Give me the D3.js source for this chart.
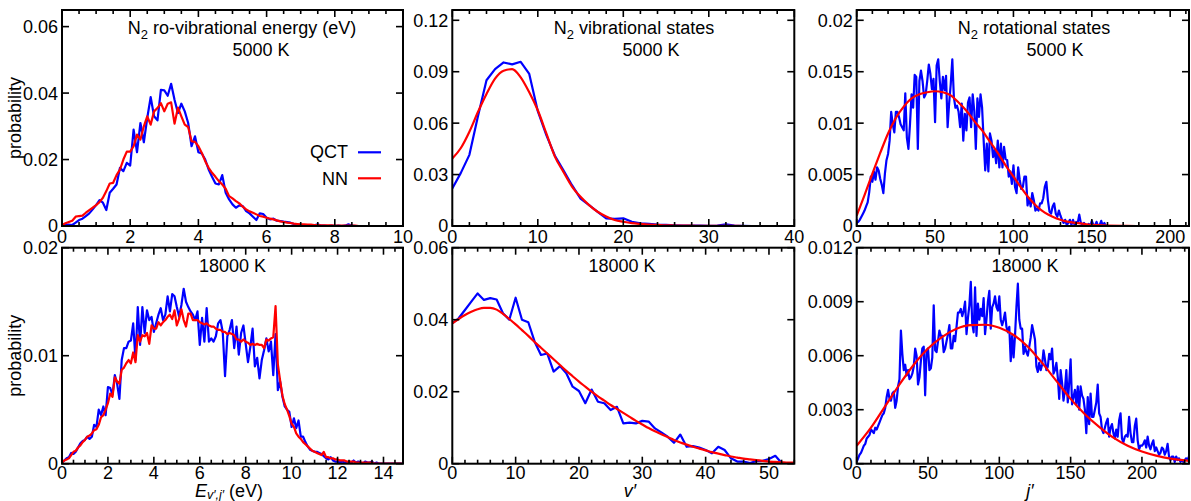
<!DOCTYPE html>
<html><head><meta charset="utf-8">
<script src="https://cdn.jsdelivr.net/npm/d3@7"></script>
<style>body{margin:0;background:#fff}svg text{font-family:"Liberation Sans",Arial,Helvetica,sans-serif;fill:#000}</style>
</head><body><svg id="c" width="1191" height="501"></svg>
<script>
// ---------------- DATA ----------------
// Ro-vibrational energy distributions (bin width 0.1 eV, starting at 0 eV)
const energyBin = 0.1;
const energy5000QCT = [0,0.0003,0.0004,0.0003,0.0010,0.0018,0.0022,0.0030,0.0038,0.0050,
 0.0063,0.0078,0.0070,0.0048,0.0100,0.0112,0.0125,0.0175,0.0165,0.0190,
 0.0182,0.0290,0.0222,0.0310,0.0252,0.0325,0.0388,0.0330,0.0318,0.0410,
 0.0408,0.0392,0.0428,0.0380,0.0340,0.0368,0.0345,0.0310,0.0240,0.0270,
 0.0222,0.0218,0.0200,0.0170,0.0148,0.0128,0.0125,0.0153,0.0100,0.0080,
 0.0065,0.0055,0.0062,0.0060,0.0045,0.0038,0.0028,0.0018,0.0038,0.0036,
 0.0025,0.0020,0.0022,0.0016,0.0015,0.0013,0.0012,0.0010,0.0006,0.0004,
 0.0003,0.0002,0.0002,0.0001,0.0002,0.0005,0.0001,0.0001,0,0.0001,
 0,0.0001,0,0.0001,0.0005,0.0001,0,0,0,0,
 0,0,0,0,0,0,0,0,0,0,0];
const energy5000NN = [0.0003,0.0008,0.0012,0.0016,0.0028,0.0030,0.0031,0.0040,0.0048,0.0055,
 0.0063,0.0072,0.0085,0.0105,0.0128,0.0130,0.0153,0.0170,0.0200,0.0224,
 0.0224,0.0240,0.0275,0.0260,0.0300,0.0330,0.0305,0.0345,0.0355,0.0370,
 0.0345,0.0368,0.0372,0.0308,0.0356,0.0330,0.0305,0.0298,0.0255,0.0253,
 0.0240,0.0220,0.0195,0.0175,0.0160,0.0148,0.0135,0.0125,0.0112,0.0090,
 0.0083,0.0075,0.0068,0.0058,0.0050,0.0044,0.0040,0.0035,0.0030,0.0028,
 0.0025,0.0022,0.0020,0.0017,0.0014,0.0012,0.0010,0.0009,0.0007,0.0006,
 0.0005,0.0005,0.0004,0.0004,0.0003,0.0003,0.0002,0.0002,0.0002,0.0002,
 0.0001,0.0001,0.0001,0.0001,0.0001,0.0001,0.0001,0,0,0,
 0,0,0,0,0,0,0,0,0,0,0];
const energy18000QCT = [0.0001,0.0003,0.0005,0.0006,0.0010,0.0009,0.0011,0.0015,0.0019,0.0021,
 0.0022,0.0025,0.0023,0.0025,0.0036,0.0034,0.0050,0.0045,0.0053,0.0045,
 0.0071,0.0070,0.0064,0.0082,0.0074,0.0060,0.0096,0.0107,0.0107,0.0113,
 0.0114,0.0130,0.0096,0.0145,0.0110,0.0145,0.0121,0.0142,0.0133,0.0136,
 0.0122,0.0130,0.0138,0.0144,0.0133,0.0138,0.0155,0.0141,0.0157,0.0155,
 0.0145,0.0136,0.0147,0.0162,0.0150,0.0145,0.0141,0.0138,0.0133,0.0141,
 0.0110,0.0135,0.0113,0.0144,0.0113,0.0116,0.0113,0.0118,0.0130,0.0133,
 0.0122,0.0081,0.0118,0.0124,0.0133,0.0107,0.0127,0.0101,0.0121,0.0128,
 0.0111,0.0094,0.0108,0.0125,0.0090,0.0098,0.0079,0.0096,0.0105,0.0116,
 0.0104,0.0113,0.0082,0.0120,0.0068,0.0076,0.0062,0.0053,0.0050,0.0048,
 0.0034,0.0042,0.0033,0.0040,0.0025,0.0025,0.0020,0.0016,0.0013,0.0012,
 0.0011,0.0011,0.0010,0.0009,0.0007,0.0005,0.0004,0.0006,0.0003,0.0002,
 0.0002,0.0001,0.0002,0.0001,0.0001,0.0002,0.0001,0.0003,0.0001,0.0002,
 0.0001,0,0.0002,0.0001,0.0001,0.0002,0,0.0001,0,0,
 0,0,0,0,0,0,0,0,0];
const energy18000NN = [0.0001,0.0003,0.0004,0.0005,0.0008,0.0011,0.0012,0.0015,0.0017,0.0020,
 0.0022,0.0025,0.0026,0.0028,0.0031,0.0032,0.0036,0.0043,0.0045,0.0050,
 0.0056,0.0065,0.0062,0.0080,0.0076,0.0074,0.0087,0.0089,0.0093,0.0096,
 0.0093,0.0103,0.0094,0.0119,0.0113,0.0119,0.0118,0.0121,0.0111,0.0128,
 0.0125,0.0125,0.0131,0.0128,0.0131,0.0133,0.0136,0.0138,0.0134,0.0142,
 0.0128,0.0134,0.0143,0.0133,0.0127,0.0139,0.0139,0.0133,0.0133,0.0133,
 0.0131,0.0130,0.0129,0.0130,0.0128,0.0127,0.0127,0.0125,0.0124,0.0124,
 0.0122,0.0122,0.0120,0.0121,0.0120,0.0119,0.0115,0.0115,0.0113,0.0115,
 0.0113,0.0112,0.0110,0.0111,0.0110,0.0111,0.0110,0.0110,0.0107,0.0115,
 0.0114,0.0116,0.0117,0.0146,0.0092,0.0077,0.0063,0.0055,0.0050,0.0044,
 0.0037,0.0034,0.0028,0.0025,0.0023,0.0020,0.0018,0.0016,0.0014,0.0012,
 0.0011,0.0010,0.0009,0.0008,0.0011,0.0006,0.0006,0.0005,0.0005,0.0004,
 0.0004,0.0003,0.0003,0.0003,0.0002,0.0002,0.0002,0.0002,0.0001,0.0001,
 0.0001,0.0001,0.0001,0.0001,0.0001,0.0001,0,0,0,0,
 0,0,0,0,0,0,0,0,0];

// Vibrational state distributions, v' = 0,1,2,...
const vib5000QCT = [0.0219,0.0310,0.0415,0.0640,0.0850,0.0915,0.0954,0.0943,0.0958,0.0887,
 0.0670,0.0530,0.0410,0.0325,0.0238,0.0160,0.0122,0.0083,0.0045,0.0041,
 0.0045,0.0025,0.0016,0.0012,0.0008,0.0006,0.0004,0.0003,0.0002,0.0002,
 0.0001,0.0002,0.0010,0.0002,0.0001,0,0,0,0,0,0];
const vib5000NN = [0.0393,0.0455,0.0550,0.0665,0.0770,0.0860,0.0906,0.0915,0.0867,0.0780,
 0.0675,0.0540,0.0405,0.0315,0.0230,0.0170,0.0122,0.0083,0.0055,0.0035,
 0.0025,0.0017,0.0012,0.0008,0.0006,0.0004,0.0003,0.0002,0.0002,0.0001,
 0.0001,0.0001,0.0001,0.0001,0,0,0,0,0,0,0];
const vib18000QCT = [0.0390,0.0404,0.0427,0.0450,0.0473,0.0455,0.0460,0.0456,0.0418,0.0400,
 0.0461,0.0400,0.0393,0.0339,0.0302,0.0306,0.0256,0.0271,0.0251,0.0214,
 0.0202,0.0168,0.0206,0.0172,0.0168,0.0149,0.0158,0.0112,0.0114,0.0112,
 0.0119,0.0117,0.0098,0.0087,0.0075,0.0058,0.0081,0.0047,0.0049,0.0045,
 0.0038,0.0029,0.0047,0.0038,0.0015,0.0006,0.0006,0.0002,0.0007,0.0008,
 0.0013,0.0022,0.0002,0.0001,0.0001];
const vib18000NN = [0.0390,0.0402,0.0413,0.0422,0.0429,0.0433,0.0433,0.0428,0.0416,0.0402,
 0.0387,0.0371,0.0355,0.0338,0.0322,0.0306,0.0290,0.0274,0.0258,0.0243,
 0.0228,0.0214,0.0200,0.0187,0.0175,0.0163,0.0152,0.0141,0.0130,0.0119,
 0.0109,0.0099,0.0090,0.0082,0.0074,0.0066,0.0059,0.0053,0.0047,0.0042,
 0.0037,0.0032,0.0028,0.0024,0.0020,0.0017,0.0014,0.0012,0.0010,0.0008,
 0.0006,0.0005,0.0004,0.0003,0.0003];

// Rotational state distributions, j' = 0,1,2,... (QCT); NN given at listed j'
const rot5000QCT = [0.0003,0.0004,0.0006,0.0009,0.0012,0.0015,0.0019,0.0023,0.0033,0.0048,
 0.0043,0.0053,0.0045,0.0057,0.0054,0.0046,0.0040,0.0032,0.0051,0.0064,
 0.0070,0.0083,0.0111,0.0099,0.0091,0.0111,0.0111,0.0106,0.0099,0.0096,
 0.0093,0.0129,0.0086,0.0075,0.0099,0.0128,0.0115,0.0147,0.0145,0.0075,
 0.0141,0.0151,0.0141,0.0125,0.0128,0.0141,0.0157,0.0148,0.0133,0.0143,
 0.0101,0.0156,0.0162,0.0141,0.0124,0.0145,0.0132,0.0146,0.0096,0.0120,
 0.0138,0.0162,0.0125,0.0115,0.0117,0.0111,0.0096,0.0119,0.0083,0.0109,
 0.0093,0.0120,0.0125,0.0096,0.0128,0.0112,0.0075,0.0124,0.0106,0.0128,
 0.0115,0.0083,0.0054,0.0080,0.0053,0.0090,0.0083,0.0067,0.0074,0.0061,
 0.0083,0.0057,0.0080,0.0057,0.0077,0.0065,0.0064,0.0048,0.0053,0.0041,
 0.0059,0.0038,0.0032,0.0057,0.0045,0.0036,0.0038,0.0048,0.0048,0.0020,
 0.0027,0.0019,0.0032,0.0025,0.0015,0.0017,0.0015,0.0022,0.0022,0.0027,
 0.0038,0.0043,0.0025,0.0014,0.0012,0.0019,0.0022,0.0012,0.0009,0.0015,
 0.0010,0.0006,0.0003,0.0006,0.0001,0.0003,0.0006,0.0001,0.0006,0.0001,
 0.0004,0.0003,0.0011,0.0003,0.0001,0.0003,0.0001,0,0.0002,0,
 0.0005,0.0001,0,0.0004,0,0.0001,0.0005,0,0.0003,0,
 0,0,0];
const rot5000NNj = [0,5,10,15,20,25,30,35,40,45,50,55,60,65,70,75,80,85,90,95,100,105,110,115,120,125,130,135,140,145,150,160,170,180,190,200,212];
const rot5000NN = [0.0010,0.0030,0.0051,0.0071,0.0090,0.0105,0.0116,0.0124,0.0128,0.0130,0.0131,0.0130,0.0127,0.0120,0.0112,0.0102,0.0093,0.0082,0.0071,0.0059,
 0.0048,0.0037,0.0027,0.0019,0.0013,0.0009,0.0006,0.0004,0.0003,0.0002,0.0001,0.00005,0.00002,0,0,0,0];
const rot18000QCT = [0.0001,0.0003,0.0005,0.0006,0.0008,0.0010,0.0011,0.0014,0.0015,0.0016,
 0.0019,0.0018,0.0017,0.0020,0.0019,0.0021,0.0023,0.0025,0.0027,0.0028,
 0.0031,0.0037,0.0041,0.0036,0.0035,0.0039,0.0040,0.0031,0.0035,0.0043,
 0.0047,0.0074,0.0061,0.0052,0.0055,0.0049,0.0052,0.0047,0.0048,0.0050,
 0.0054,0.0064,0.0060,0.0044,0.0048,0.0057,0.0064,0.0065,0.0038,0.0063,
 0.0064,0.0052,0.0053,0.0059,0.0088,0.0063,0.0062,0.0068,0.0074,0.0071,
 0.0071,0.0062,0.0064,0.0068,0.0072,0.0077,0.0064,0.0064,0.0071,0.0068,
 0.0076,0.0084,0.0084,0.0086,0.0082,0.0085,0.0090,0.0072,0.0081,0.0088,
 0.0101,0.0078,0.0073,0.0098,0.0071,0.0089,0.0080,0.0086,0.0082,0.0092,
 0.0072,0.0080,0.0090,0.0096,0.0075,0.0087,0.0089,0.0093,0.0087,0.0085,
 0.0093,0.0080,0.0077,0.0080,0.0084,0.0076,0.0073,0.0076,0.0057,0.0071,
 0.0059,0.0071,0.0087,0.0100,0.0080,0.0075,0.0075,0.0061,0.0065,0.0062,
 0.0060,0.0065,0.0070,0.0077,0.0073,0.0069,0.0054,0.0051,0.0056,0.0052,
 0.0055,0.0063,0.0058,0.0052,0.0054,0.0061,0.0058,0.0064,0.0050,0.0052,
 0.0056,0.0048,0.0036,0.0052,0.0045,0.0035,0.0041,0.0052,0.0034,0.0045,
 0.0058,0.0033,0.0037,0.0041,0.0033,0.0043,0.0030,0.0043,0.0038,0.0036,
 0.0030,0.0017,0.0037,0.0022,0.0039,0.0026,0.0026,0.0030,0.0034,0.0044,
 0.0028,0.0026,0.0019,0.0017,0.0020,0.0023,0.0025,0.0015,0.0020,0.0022,
 0.0017,0.0014,0.0019,0.0015,0.0024,0.0028,0.0014,0.0012,0.0015,0.0016,
 0.0015,0.0026,0.0017,0.0012,0.0012,0.0021,0.0025,0.0013,0.0008,0.0010,
 0.0010,0.0011,0.0013,0.0009,0.0015,0.0010,0.0008,0.0011,0.0013,0.0007,
 0.0009,0.0007,0.0005,0.0006,0.0009,0.0008,0.0005,0.0007,0.0011,0.0004,
 0.0002,0.0004,0.0004,0.0001,0.0004,0.0002,0.0003,0.0001,0.0002,0.0001,
 0.0002,0.0003,0.0002,0.0004];
const rot18000NNj = [0,10,20,30,40,50,60,70,80,90,100,110,120,130,140,150,160,170,180,190,200,210,220,233];
const rot18000NN = [0.00100,0.00200,0.00320,0.00440,0.00550,0.00640,0.00705,0.00750,0.00770,0.00772,0.00755,0.00715,
 0.00650,0.00560,0.00460,0.00360,0.00275,0.00205,0.00145,0.00100,0.00068,0.00045,0.00028,0.00016];

// Tick values / labels
const eTicks5000 = [0,2,4,6,8,10];
const eTicks18000 = [0,2,4,6,8,10,12,14];
const vTicks5000 = [0,10,20,30,40];
const vTicks18000 = [0,10,20,30,40,50];
const jTicks = [0,50,100,150,200];
const pTicksE5000 = [0,0.02,0.04,0.06];
const pTicksE18000 = [0,0.01,0.02];
const pTicksV5000 = [0,0.03,0.06,0.09,0.12];
const pTicksV18000 = [0,0.02,0.04,0.06];
const pTicksJ5000 = [0,0.005,0.01,0.015,0.02];
const pTicksJ18000 = [0,0.003,0.006,0.009,0.012];

// ---------------- DRAWING ----------------
const svg = d3.select("#c");
const BLUE = "#0000ff", RED = "#ff0000";
const FS = 18;

const idx = (arr, step) => arr.map((v, i) => [i * step, v]);
const zip = (xs, ys) => xs.map((x, i) => [x, ys[i]]);

const panels = [
  {box:[62,403,10,226], xd:[0,10], yd:[0,0.065], xt:eTicks5000, xm:0.5, yt:pTicksE5000, lab:17,
   qct:idx(energy5000QCT, energyBin), nn:idx(energy5000NN, energyBin), smooth:false},
  {box:[62,403,247.7,463.7], xd:[0,14.85], yd:[0,0.02], xt:eTicks18000, xm:0.5, yt:pTicksE18000, lab:15,
   qct:idx(energy18000QCT, energyBin), nn:idx(energy18000NN, energyBin), smooth:false},
  {box:[452.3,794.3,10,226], xd:[0,40], yd:[0,0.126], xt:vTicks5000, xm:2, yt:pTicksV5000, lab:17,
   qct:idx(vib5000QCT,1), nn:idx(vib5000NN,1), smooth:true},
  {box:[452.3,794.3,247.7,463.7], xd:[0,54], yd:[0,0.06], xt:vTicks18000, xm:2, yt:pTicksV18000, lab:15,
   qct:idx(vib18000QCT,1), nn:idx(vib18000NN,1), smooth:true},
  {box:[856.7,1189,10,226], xd:[0,212], yd:[0,0.021], xt:jTicks, xm:10, yt:pTicksJ5000, lab:17,
   qct:idx(rot5000QCT,1), nn:zip(rot5000NNj, rot5000NN), smooth:true},
  {box:[856.7,1189,247.7,463.7], xd:[0,233], yd:[0,0.012], xt:jTicks, xm:10, yt:pTicksJ18000, lab:15,
   qct:idx(rot18000QCT,1), nn:zip(rot18000NNj, rot18000NN), smooth:true}
];

panels.forEach((p, k) => {
  const [x0,x1,y0,y1] = p.box;
  const xs = d3.scaleLinear().domain(p.xd).range([x0,x1]);
  const ys = d3.scaleLinear().domain(p.yd).range([y1,y0]);
  const g = svg.append("g");
  const cid = "clip" + k;
  svg.append("clipPath").attr("id", cid).append("rect")
     .attr("x", x0).attr("y", y0).attr("width", x1-x0).attr("height", y1-y0);
  const lineQ = d3.line().x(d=>xs(d[0])).y(d=>ys(d[1]));
  const lineN = d3.line().x(d=>xs(d[0])).y(d=>ys(d[1])).curve(p.smooth ? d3.curveMonotoneX : d3.curveLinear);
  const lg = g.append("g").attr("clip-path", `url(#${cid})`);
  lg.append("path").attr("d", lineQ(p.qct)).attr("fill","none").attr("stroke",BLUE)
    .attr("stroke-width",2.2).attr("stroke-linejoin","round");
  lg.append("path").attr("d", lineN(p.nn)).attr("fill","none").attr("stroke",RED)
    .attr("stroke-width",2.2).attr("stroke-linejoin","round");

  // ticks
  const tk = g.append("g").attr("stroke","#000").attr("stroke-width",1.6);
  const minors = d3.range(p.xd[0], p.xd[1] + 1e-9, p.xm).filter(v => !p.xt.some(t => Math.abs(t - v) < 1e-9));
  minors.forEach(v => {
    const X = xs(v);
    tk.append("line").attr("x1",X).attr("x2",X).attr("y1",y1).attr("y2",y1-4);
    tk.append("line").attr("x1",X).attr("x2",X).attr("y1",y0).attr("y2",y0+4);
  });
  p.xt.forEach(v => {
    const X = xs(v);
    tk.append("line").attr("x1",X).attr("x2",X).attr("y1",y1).attr("y2",y1-7);
    tk.append("line").attr("x1",X).attr("x2",X).attr("y1",y0).attr("y2",y0+7);
    g.append("text").attr("x",X).attr("y",y1+p.lab).attr("text-anchor","middle")
      .attr("font-size",FS).text(String(v));
  });
  p.yt.forEach(v => {
    const Y = ys(v);
    tk.append("line").attr("x1",x0).attr("x2",x0+7).attr("y1",Y).attr("y2",Y);
    tk.append("line").attr("x1",x1).attr("x2",x1-7).attr("y1",Y).attr("y2",Y);
    g.append("text").attr("x",x0-4).attr("y",Y).attr("dy","0.36em").attr("text-anchor","end")
      .attr("font-size",FS).text(String(v));
  });
  g.append("rect").attr("x",x0).attr("y",y0).attr("width",x1-x0).attr("height",y1-y0)
    .attr("fill","none").attr("stroke","#000").attr("stroke-width",2);
});

// Titles
function n2Title(cx, text) {
  const t = svg.append("text").attr("x",cx).attr("y",34).attr("text-anchor","middle").attr("font-size",FS);
  t.append("tspan").text("N");
  t.append("tspan").attr("dy",5).attr("font-size",13).text("2");
  t.append("tspan").attr("dy",-5).text(" " + text);
}
n2Title(242, "ro-vibrational energy (eV)");
n2Title(634, "vibrational states");
n2Title(1034, "rotational states");
[[261,56,"5000 K"],[651,56,"5000 K"],[1055,56,"5000 K"],
 [232.5,271.5,"18000 K"],[622,271.5,"18000 K"],[1025,271.5,"18000 K"]].forEach(([x,y,s]) =>
  svg.append("text").attr("x",x).attr("y",y).attr("text-anchor","middle").attr("font-size",FS).text(s));

// Legend
svg.append("text").attr("x",348).attr("y",158).attr("text-anchor","end").attr("font-size",FS).text("QCT");
svg.append("line").attr("x1",358).attr("x2",381).attr("y1",152.3).attr("y2",152.3).attr("stroke",BLUE).attr("stroke-width",2.2);
svg.append("text").attr("x",348).attr("y",185).attr("text-anchor","end").attr("font-size",FS).text("NN");
svg.append("line").attr("x1",358).attr("x2",381).attr("y1",178.3).attr("y2",178.3).attr("stroke",RED).attr("stroke-width",2.2);

// Y labels
[118, 355.7].forEach(cy =>
  svg.append("text").attr("transform",`translate(21,${cy}) rotate(-90)`).attr("text-anchor","middle")
    .attr("font-size",FS).text("probability"));

// X labels
const xl = svg.append("text").attr("x",229).attr("y",496.5).attr("text-anchor","middle").attr("font-size",FS);
xl.append("tspan").attr("font-style","italic").text("E");
xl.append("tspan").attr("font-style","italic").attr("font-size",12.5).attr("dy",2.5).text("v\u2032,j\u2032");
xl.append("tspan").attr("dy",-2.5).text(" (eV)");
svg.append("text").attr("x",630).attr("y",496.5).attr("text-anchor","middle").attr("font-size",FS)
  .attr("font-style","italic").text("v\u2032");
svg.append("text").attr("x",1030).attr("y",496.5).attr("text-anchor","middle").attr("font-size",FS)
  .attr("font-style","italic").text("j\u2032");
</script></body></html>
